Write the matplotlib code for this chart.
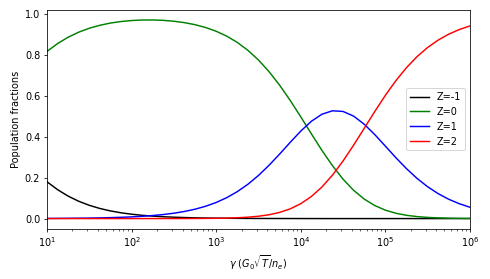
import matplotlib
matplotlib.use("Agg")
import matplotlib.pyplot as plt
import numpy as np

# gamma values (log10 spaced readings)
log_gamma = [1.0, 1.125, 1.25, 1.375, 1.5, 1.625, 1.75, 1.875,
             2.0, 2.125, 2.25, 2.375, 2.5, 2.625, 2.75, 2.875,
             3.0, 3.125, 3.25, 3.375, 3.5, 3.625, 3.75, 3.875,
             4.0, 4.125, 4.25, 4.375, 4.5, 4.625, 4.75, 4.875,
             5.0, 5.125, 5.25, 5.375, 5.5, 5.625, 5.75, 5.875, 6.0]
gamma = [10 ** v for v in log_gamma]

z_m1 = [0.1802, 0.1415, 0.1099, 0.0847, 0.0649, 0.0494, 0.0375, 0.0283,
        0.0213, 0.0160, 0.0120, 0.0090, 0.0067, 0.0050, 0.0037, 0.0027,
        0.0020, 0.0015, 0.0011, 0.0008, 0.0005, 0.0004, 0.0003, 0.0002,
        0.0001, 0.0001, 0.0, 0.0, 0.0, 0.0, 0.0, 0.0,
        0.0, 0.0, 0.0, 0.0, 0.0, 0.0, 0.0, 0.0, 0.0]
z_0 = [0.8191, 0.8575, 0.8887, 0.9134, 0.9326, 0.9471, 0.9579, 0.9654,
       0.9703, 0.9728, 0.9730, 0.9711, 0.9668, 0.9599, 0.9499, 0.9361,
       0.9177, 0.8937, 0.8630, 0.8243, 0.7768, 0.7198, 0.6535, 0.5789,
       0.4984, 0.4155, 0.3342, 0.2590, 0.1930, 0.1384, 0.0956, 0.0638,
       0.0413, 0.0260, 0.0160, 0.0097, 0.0057, 0.0034, 0.0020, 0.0011, 0.0007]
z_1 = [0.0007, 0.0010, 0.0014, 0.0019, 0.0025, 0.0034, 0.0046, 0.0062,
       0.0083, 0.0112, 0.0149, 0.0198, 0.0263, 0.0348, 0.0459, 0.0604,
       0.0789, 0.1025, 0.1320, 0.1681, 0.2113, 0.2611, 0.3160, 0.3733,
       0.4286, 0.4765, 0.5112, 0.5281, 0.5248, 0.5019, 0.4624, 0.4115,
       0.3551, 0.2981, 0.2446, 0.1968, 0.1559, 0.1220, 0.0945, 0.0727, 0.0555]
z_2 = [0.0, 0.0, 0.0, 0.0, 0.0, 0.0, 0.0, 0.0,
       0.0, 0.0, 0.0, 0.0001, 0.0001, 0.0002, 0.0004, 0.0008,
       0.0013, 0.0023, 0.0040, 0.0068, 0.0114, 0.0187, 0.0302, 0.0476,
       0.0729, 0.1080, 0.1545, 0.2129, 0.2821, 0.3598, 0.4420, 0.5246,
       0.6036, 0.6759, 0.7394, 0.7935, 0.8383, 0.8746, 0.9035, 0.9262, 0.9438]

labels = ["Z=-1", "Z=0", "Z=1", "Z=2"]
colors = ["k", "g", "b", "r"]

fig = plt.figure(figsize=(7.0, 279 / 70), dpi=70)
ax = fig.add_axes([0.096, 0.181, 0.863, 0.783])
for ys, lab, c in zip([z_m1, z_0, z_1, z_2], labels, colors):
    ax.plot(gamma, ys, color=c, lw=1.5, label=lab)
ax.set_xscale("log")
ax.set_xlim(10, 1e6)
ax.set_yticks([0.0, 0.2, 0.4, 0.6, 0.8, 1.0])
ax.set_ylabel("Population fractions")
ax.set_xlabel(r"$\gamma$ ($G_0\sqrt{T}/n_e$)")
ax.legend(loc="center right")
fig.savefig("out.png", dpi=70)
